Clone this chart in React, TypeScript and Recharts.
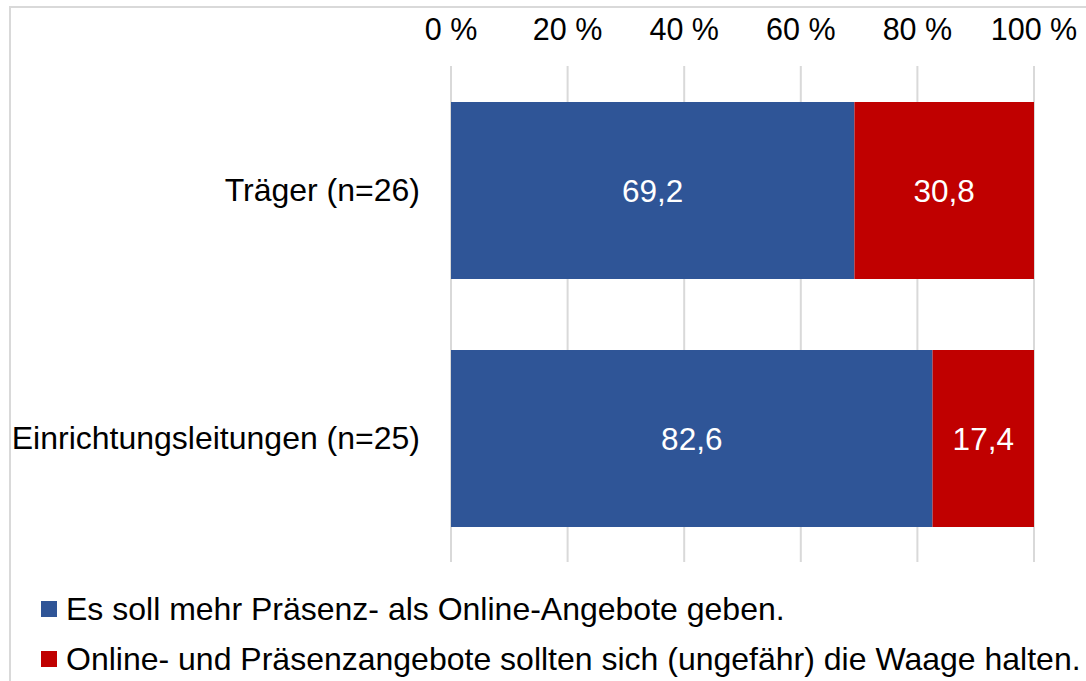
import { BarChart, Bar, XAxis, YAxis, CartesianGrid, LabelList } from "recharts";

const categories = ["Träger (n=26)", "Einrichtungsleitungen (n=25)"];
const mehrPraesenz = [69.2, 82.6];
const waageHalten = [30.8, 17.4];
const xTicks = [0, 20, 40, 60, 80, 100];

const seriesNames = {
  mehrPraesenz: "Es soll mehr Präsenz- als Online-Angebote geben.",
  waageHalten: "Online- und Präsenzangebote sollten sich (ungefähr) die Waage halten.",
};

const colors = {
  mehrPraesenz: "#2F5597",
  waageHalten: "#C00000",
};

const data = categories.map((name, i) => ({
  name,
  mehrPraesenz: mehrPraesenz[i],
  waageHalten: waageHalten[i],
}));

const fmt = (v: any) => Number(v).toFixed(1).replace(".", ",");

const FONT = "'Liberation Sans', Arial, sans-serif";

export default function App() {
  return (
    <div
      style={{
        position: "fixed",
        left: 0,
        top: 0,
        width: 1086,
        height: 681,
        overflow: "hidden",
        background: "#fff",
        fontFamily: FONT,
      }}
    >
      <div
        style={{
          position: "absolute",
          left: 9,
          top: 6,
          width: 1200,
          height: 800,
          borderTop: "2px solid #d9d9d9",
          borderLeft: "2px solid #d9d9d9",
        }}
      />
      <div style={{ position: "absolute", left: 0, top: 0 }}>
        <BarChart
          width={1086}
          height={681}
          data={data}
          layout="vertical"
          margin={{ top: 0, right: 52, bottom: 119, left: 0 }}
        >
          <CartesianGrid horizontal={false} stroke="#d9d9d9" strokeWidth={2} />
          <XAxis
            type="number"
            orientation="top"
            domain={[0, 100]}
            ticks={xTicks}
            tickFormatter={(v) => `${v} %`}
            axisLine={false}
            tickLine={false}
            height={66}
            tickMargin={20}
            tick={{ fill: "#000", fontSize: 30.5 }}
            interval={0}
          />
          <YAxis
            type="category"
            dataKey="name"
            width={451}
            axisLine={false}
            tickLine={false}
            tickMargin={25}
            tick={{ fill: "#000", fontSize: 32 }}
          />
          <Bar
            dataKey="mehrPraesenz"
            stackId="a"
            fill={colors.mehrPraesenz}
            barSize={177}
            isAnimationActive={false}
          >
            <LabelList dataKey="mehrPraesenz" position="center" fill="#fff" fontSize={31.5} formatter={fmt} />
          </Bar>
          <Bar
            dataKey="waageHalten"
            stackId="a"
            fill={colors.waageHalten}
            barSize={177}
            isAnimationActive={false}
          >
            <LabelList dataKey="waageHalten" position="center" fill="#fff" fontSize={31.5} formatter={fmt} />
          </Bar>
        </BarChart>
      </div>
      {(["mehrPraesenz", "waageHalten"] as const).map((key, i) => (
        <div
          key={key}
          style={{
            position: "absolute",
            left: 41,
            top: 594 + i * 50,
            height: 30,
            display: "flex",
            alignItems: "center",
            fontSize: 32,
            lineHeight: "30px",
            color: "#000",
            whiteSpace: "nowrap",
          }}
        >
          <span style={{ width: 16, height: 16, background: colors[key], marginRight: 9, display: "inline-block", flexShrink: 0 }} />
          <span>{seriesNames[key]}</span>
        </div>
      ))}
    </div>
  );
}
